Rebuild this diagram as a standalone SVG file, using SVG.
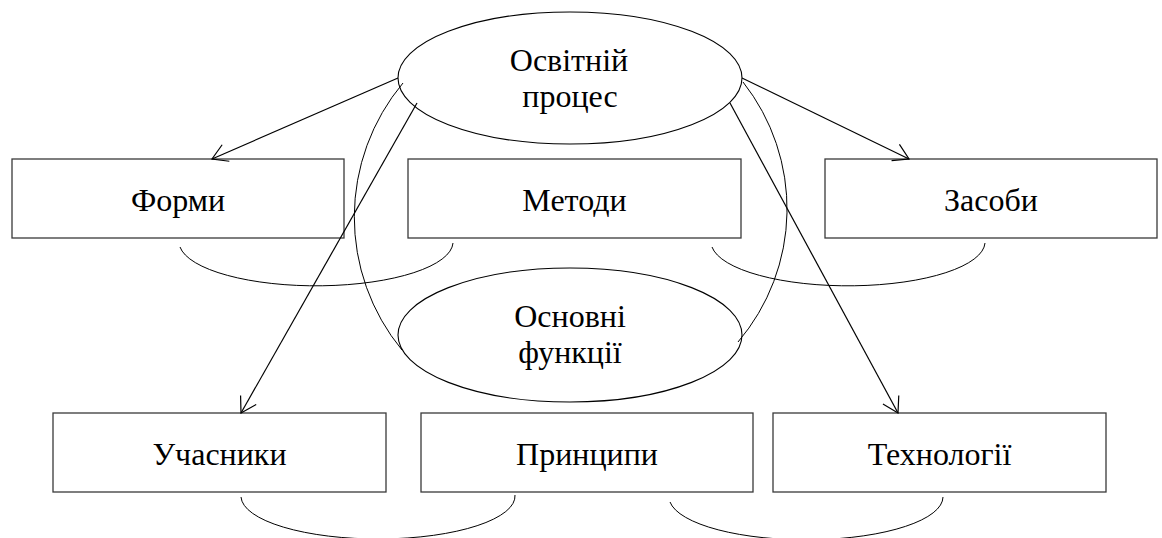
<svg xmlns="http://www.w3.org/2000/svg" width="1162" height="538" viewBox="0 0 1162 538">
<defs>
<style>
.box{fill:#fff;stroke:#3a3a3a;stroke-width:1.3}
.ell{fill:none;stroke:#000;stroke-width:1.1}
.arc{fill:none;stroke:#000;stroke-width:1}
.arr{fill:none;stroke:#000;stroke-width:1.2;marker-end:url(#ah)}
.t{font-family:"Liberation Serif","Times New Roman",serif;font-size:32px;fill:#000;text-anchor:middle}
</style>
<marker id="ah" markerUnits="userSpaceOnUse" markerWidth="40" markerHeight="40" viewBox="-20 -20 40 40" refX="0" refY="0" orient="auto" overflow="visible">
<path d="M-15,-9 L0,0 L-15,9" fill="none" stroke="#000" stroke-width="1.2"/>
</marker>
</defs>
<rect width="1162" height="538" fill="#fff"/>
<g id="node-formy"><rect class="box" x="12" y="159" width="332" height="79"/><text class="t" x="178" y="211">Форми</text></g>
<g id="node-metody"><rect class="box" x="408" y="159" width="333" height="79"/><text class="t" x="574.5" y="211">Методи</text></g>
<g id="node-zasoby"><rect class="box" x="825" y="159" width="332" height="79"/><text class="t" x="991" y="211">Засоби</text></g>
<g id="node-uchasnyky"><rect class="box" x="53" y="413" width="333" height="79"/><text class="t" x="219.5" y="465">Учасники</text></g>
<g id="node-pryntsypy"><rect class="box" x="421" y="413" width="332" height="79"/><text class="t" x="587" y="465">Принципи</text></g>
<g id="node-tekhnolohii"><rect class="box" x="773" y="413" width="333" height="79"/><text class="t" x="939.5" y="465">Технології</text></g>
<g id="node-osvitnii-protses"><ellipse class="ell" cx="570" cy="78" rx="172" ry="66"/><text class="t" x="569" y="71">Освітній</text><text class="t" x="570" y="107">процес</text></g>
<g id="node-osnovni-funktsii"><ellipse class="ell" cx="570" cy="335" rx="172" ry="67"/><text class="t" x="570" y="327">Основні</text><text class="t" x="570" y="363">функції</text></g>
<g id="connectors">
<path class="arc" d="M403,83 A209,209 0 0 0 402,350"/>
<path class="arc" d="M743,82 A205,205 0 0 1 738,342"/>
<path class="arc" d="M180,247 A137,44 0 0 0 453,243"/>
<path class="arc" d="M712,247 A137,44 0 0 0 985,243"/>
<path class="arc" d="M241,497 A137,43 0 0 0 515,495"/>
<path class="arc" d="M670,502 A137,43 0 0 0 943,497"/>
<line class="arr" x1="398" y1="78" x2="212" y2="159"/>
<line class="arr" x1="417" y1="103" x2="241" y2="413"/>
<line class="arr" x1="742" y1="78" x2="909" y2="159"/>
<line class="arr" x1="730" y1="103" x2="898" y2="413"/>
</g>
</svg>
